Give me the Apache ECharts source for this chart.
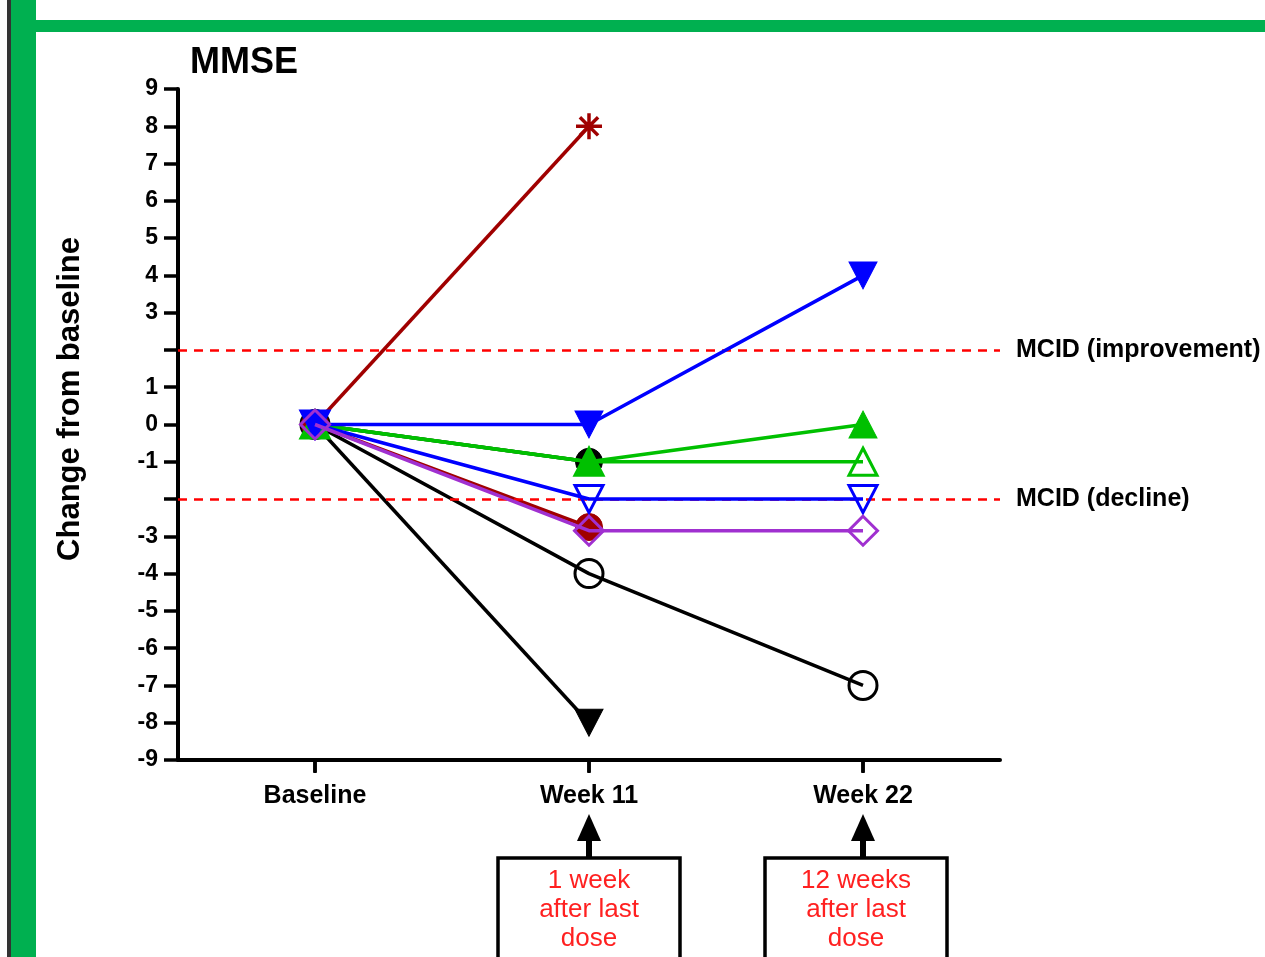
<!DOCTYPE html>
<html><head><meta charset="utf-8">
<script src="https://cdn.jsdelivr.net/npm/echarts@6/dist/echarts.min.js"></script>
<style>html,body{margin:0;padding:0;background:#fff}#c{width:1265px;height:957px}</style>
</head><body><div id="c"></div>
<script>
const categories = ['Baseline', 'Week 11', 'Week 22'];
const hiddenTickValues = [2, -2];
const mcidImprove = 2;
const mcidDecline = -2;
const blackTriangle = [0, -8, null];
const blackOpenCircle = [0, -4, -7];
const blackCircle = [0, -1, null];
const redStar = [0, 8, null];
const redCircle = [0, -2.75, null];
const greenOpenTriangle = [0, -1, -1];
const greenTriangle = [0, -1, 0];
const blueOpenDown = [0, -2, -2];
const blueDown = [0, 0, 4];
const purpleDiamond = [0, -2.85, -2.85];
const boxTexts = {'Week 11': '1 week\nafter last\ndose', 'Week 22': '12 weeks\nafter last\ndose'};
const boxShift = {'Week 11': 0, 'Week 22': -7};

const FONT = '"Liberation Sans", Arial, sans-serif';
const DR = '#a00000', BL = '#0000ff', GR = '#00c000', PU = '#a030d0', BK = '#000000';
const starPath = 'path://M10,0L10,20M0,10L20,10M3,3L17,17M3,17L17,3';
const TRI = [28, 27];

function mk(name, data, color, symbol, size, filled, rotate, z) {
  return {
    name, type: 'line', data, symbol, symbolSize: size, symbolRotate: rotate || 0,
    connectNulls: false, z: z,
    lineStyle: {color, width: 3.5},
    itemStyle: filled ? {color, borderColor: color, borderWidth: 1}
                      : {color: 'rgba(0,0,0,0)', borderColor: color, borderWidth: 3},
    emphasis: {disabled: true}, animation: false
  };
}

const chart = echarts.init(document.getElementById('c'));
const series = [
  mk('bt', blackTriangle, BK, 'triangle', TRI, true, 180, 2),
  mk('boc', blackOpenCircle, BK, 'circle', 28, false, 0, 2),
  mk('bc', blackCircle, BK, 'circle', 27, true, 0, 2),
  mk('rs', redStar, DR, starPath, 26, false, 0, 3),
  mk('rc', redCircle, DR, 'circle', 27, true, 0, 3),
  mk('go', greenOpenTriangle, GR, 'triangle', TRI, false, 0, 4),
  mk('gt', greenTriangle, GR, 'triangle', TRI, true, 0, 4),
  mk('bo', blueOpenDown, BL, 'triangle', TRI, false, 180, 5),
  mk('bd', blueDown, BL, 'triangle', TRI, true, 180, 5),
  mk('pd', purpleDiamond, PU, 'diamond', [29, 29], false, 0, 6)
];
series[3].itemStyle = {color: 'none', borderColor: DR, borderWidth: 3.5};
series.push({
  type: 'line', data: [], z: 1,
  markLine: {
    silent: true, symbol: 'none', animation: false,
    lineStyle: {color: '#ff0000', type: [9, 7], width: 2.5},
    label: {position: 'end', distance: 16, color: '#000', fontFamily: FONT, fontWeight: 'bold', fontSize: 25},
    data: [
      {yAxis: mcidImprove, label: {formatter: 'MCID (improvement)'}},
      {yAxis: mcidDecline, label: {formatter: 'MCID (decline)'}}
    ]
  }
});

chart.setOption({
  animation: false,
  backgroundColor: '#fff',
  title: {text: 'MMSE', left: 185, top: 40, textStyle: {fontFamily: FONT, fontWeight: 'bold', fontSize: 36, color: '#000'}},
  grid: {left: 178, right: 265, top: 89, bottom: 197},
  xAxis: {
    type: 'category', data: categories, boundaryGap: true,
    axisLine: {onZero: false, lineStyle: {color: '#000', width: 4}},
    axisTick: {show: true, alignWithLabel: true, length: 12, lineStyle: {color: '#000', width: 3.5}},
    axisLabel: {color: '#000', fontFamily: FONT, fontWeight: 'bold', fontSize: 25, margin: 24},
    splitLine: {show: false}
  },
  yAxis: {
    type: 'value', min: -9, max: 9, interval: 1,
    axisLine: {show: true, onZero: false, lineStyle: {color: '#000', width: 4}},
    axisTick: {show: true, length: 14, lineStyle: {color: '#000', width: 3.5}},
    axisLabel: {color: '#000', fontFamily: FONT, fontWeight: 'bold', fontSize: 23, margin: 20,
      formatter: v => hiddenTickValues.includes(v) ? '' : String(v)},
    splitLine: {show: false}
  },
  series
});

const g = [
  {type: 'rect', shape: {x: 7, y: 0, width: 4, height: 957}, style: {fill: '#333'}},
  {type: 'rect', shape: {x: 11, y: 0, width: 25, height: 957}, style: {fill: '#00b050'}},
  {type: 'rect', shape: {x: 36, y: 20, width: 1229, height: 12}, style: {fill: '#00b050'}},
  {type: 'text', x: 70, y: 399, rotation: Math.PI / 2,
    style: {text: 'Change from baseline', fontFamily: FONT, fontWeight: 'bold', fontSize: 31, fill: '#000', align: 'center', verticalAlign: 'middle'}}
];
categories.forEach(c => {
  const px = chart.convertToPixel({xAxisIndex: 0}, c);
  g.push({type: 'line', shape: {x1: px, y1: 760, x2: px, y2: 773}, style: {stroke: '#000', lineWidth: 3.5}});
  g.push({type: 'text', x: px, y: 5, style: {text: c, fontFamily: FONT, fontWeight: 'bold', fontSize: 25, fill: '#999', align: 'center', verticalAlign: 'bottom'}});
  if (boxTexts[c]) {
    const bx = px + boxShift[c];
    g.push({type: 'line', shape: {x1: px, y1: 838, x2: px, y2: 858}, style: {stroke: '#000', lineWidth: 6}});
    g.push({type: 'polygon', shape: {points: [[px - 12, 841], [px + 12, 841], [px, 814]]}, style: {fill: '#000'}});
    g.push({type: 'rect', shape: {x: bx - 91, y: 858, width: 182, height: 140}, style: {fill: '#fff', stroke: '#000', lineWidth: 3.5}});
    g.push({type: 'text', x: bx, y: 866, style: {text: boxTexts[c], fontFamily: FONT, fontSize: 26, lineHeight: 29, fill: '#ff2020', align: 'center', verticalAlign: 'top'}});
  }
});
chart.setOption({graphic: g});
</script></body></html>
